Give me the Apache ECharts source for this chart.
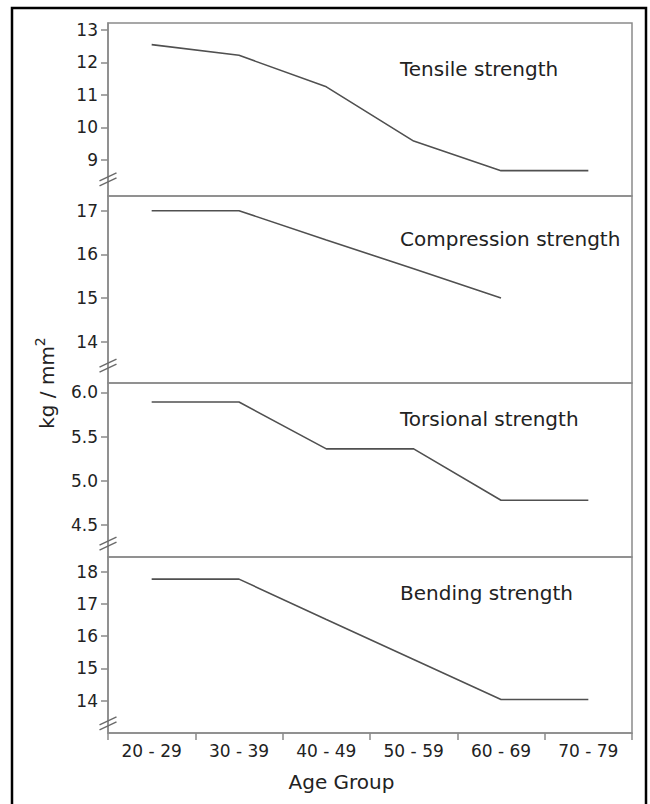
<!DOCTYPE html>
<html>
<head>
<meta charset="utf-8">
<script src="https://cdn.jsdelivr.net/npm/echarts@6/dist/echarts.min.js"></script>
<style>html,body{margin:0;padding:0;background:#fff;}#c{width:650px;height:804px;}</style>
</head>
<body>
<div id="c"></div>
<script>
// ---- data ----
const categories = ['20 - 29', '30 - 39', '40 - 49', '50 - 59', '60 - 69', '70 - 79'];
const tensile = [12.55, 12.22, 11.25, 9.58, 8.67, 8.67];
const compression = [17.0, 17.0, 16.33, 15.67, 15.0, null];
const torsional = [5.89, 5.89, 5.36, 5.36, 4.78, 4.78];
const bending = [17.77, 17.77, 16.52, 15.28, 14.04, 14.04];
const tensileTicks = [9, 10, 11, 12, 13];
const compressionTicks = [14, 15, 16, 17];
const torsionalTicks = [4.5, 5.0, 5.5, 6.0];
const bendingTicks = [14, 15, 16, 17, 18];
const panelTitles = ['Tensile strength', 'Compression strength', 'Torsional strength', 'Bending strength'];
const yAxisTitle = 'kg / mm';
const xAxisTitle = 'Age Group';

// ---- layout ----
const FONT = 'DejaVu Sans, Liberation Sans, sans-serif';
const AXIS_COLOR = '#8a8a8a';
const TEXT_COLOR = '#222';
const LINE_COLOR = '#505050';
const gridLeft = 108, gridRight = 18;
const panels = [
  { top: 23,  height: 173, min: 7.89,  max: 13.215, ticks: tensileTicks,     data: tensile,     dec: 0, brk: 8.4,  titleY: 68.5 },
  { top: 196, height: 187, min: 13.054, max: 17.337, ticks: compressionTicks, data: compression, dec: 0, brk: 13.45, titleY: 239 },
  { top: 383, height: 174, min: 4.138, max: 6.105, ticks: torsionalTicks,   data: torsional,   dec: 1, brk: 4.29, titleY: 419 },
  { top: 557, height: 176, min: 13.0,  max: 18.456, ticks: bendingTicks,     data: bending,     dec: 0, brk: 13.3, titleY: 593 }
];

const chart = echarts.init(document.getElementById('c'), null, { renderer: 'svg' });

const grids = [], xAxes = [], yAxes = [], series = [];
panels.forEach((p, i) => {
  grids.push({ left: gridLeft, right: gridRight, top: p.top, height: p.height, show: true,
    borderColor: AXIS_COLOR, borderWidth: 1.5, backgroundColor: 'transparent', containLabel: false });
  const last = i === panels.length - 1;
  xAxes.push({
    type: 'category', gridIndex: i, data: categories, boundaryGap: true, show: last,
    axisLine: { show: true, lineStyle: { color: AXIS_COLOR, width: 1.5 } },
    axisTick: { show: true, length: 7, inside: false, alignWithLabel: false, lineStyle: { color: AXIS_COLOR, width: 1.5 } },
    axisLabel: { show: true, margin: 9, color: TEXT_COLOR, fontFamily: FONT, fontSize: 17, interval: 0 },
    splitLine: { show: false }
  });
  yAxes.push({
    type: 'value', gridIndex: i, min: p.min, max: p.max,
    axisLine: { show: true, lineStyle: { color: AXIS_COLOR, width: 1.5 } },
    axisTick: { show: true, length: 7, customValues: p.ticks, lineStyle: { color: AXIS_COLOR, width: 1.5 } },
    axisLabel: { show: true, margin: 10, customValues: p.ticks, color: TEXT_COLOR, fontFamily: FONT, fontSize: 17,
      formatter: (v) => Number(v).toFixed(p.dec) },
    splitLine: { show: false }
  });
  series.push({
    type: 'line', xAxisIndex: i, yAxisIndex: i, data: p.data, symbol: 'none', showSymbol: false,
    connectNulls: false, lineStyle: { color: LINE_COLOR, width: 1.6 }, animation: false
  });
});

chart.setOption({
  animation: false,
  grid: grids, xAxis: xAxes, yAxis: yAxes, series: series
});

// decorations placed via the axes' own scales
const graphics = [];
graphics.push({ type: 'rect', z: 0, shape: { x: 12, y: 8, width: 634, height: 830 },
  style: { fill: 'none', stroke: '#000', lineWidth: 2.5 } });
panels.forEach((p, i) => {
  const y = chart.convertToPixel({ yAxisIndex: i }, p.brk);
  const x = gridLeft;
  [-2.5, 2.5].forEach(off => {
    graphics.push({ type: 'line', z: 10, shape: { x1: x - 8.5, y1: y + off + 4, x2: x + 8.5, y2: y + off - 4 },
      style: { stroke: '#6a6a6a', lineWidth: 1.4 } });
  });
  graphics.push({ type: 'text', z: 10, x: 400, y: p.titleY,
    style: { text: panelTitles[i], fill: TEXT_COLOR, font: '20px ' + FONT, align: 'left', verticalAlign: 'middle' } });
});
graphics.push({ type: 'text', z: 10, x: 341.5, y: 781.5,
  style: { text: xAxisTitle, fill: TEXT_COLOR, font: '20px ' + FONT, align: 'center', verticalAlign: 'middle' } });
graphics.push({ type: 'text', z: 10, x: 45, y: 383, rotation: Math.PI / 2,
  style: { text: '{a|' + yAxisTitle + '}{s|2}', align: 'center', verticalAlign: 'middle',
    rich: { a: { fontFamily: FONT, fontSize: 20, fill: TEXT_COLOR, color: TEXT_COLOR, lineHeight: 24, verticalAlign: 'bottom' },
            s: { fontFamily: FONT, fontSize: 14, fill: TEXT_COLOR, color: TEXT_COLOR, lineHeight: 24, verticalAlign: 'top' } } } });

chart.setOption({ graphic: graphics });
</script>
</body>
</html>
